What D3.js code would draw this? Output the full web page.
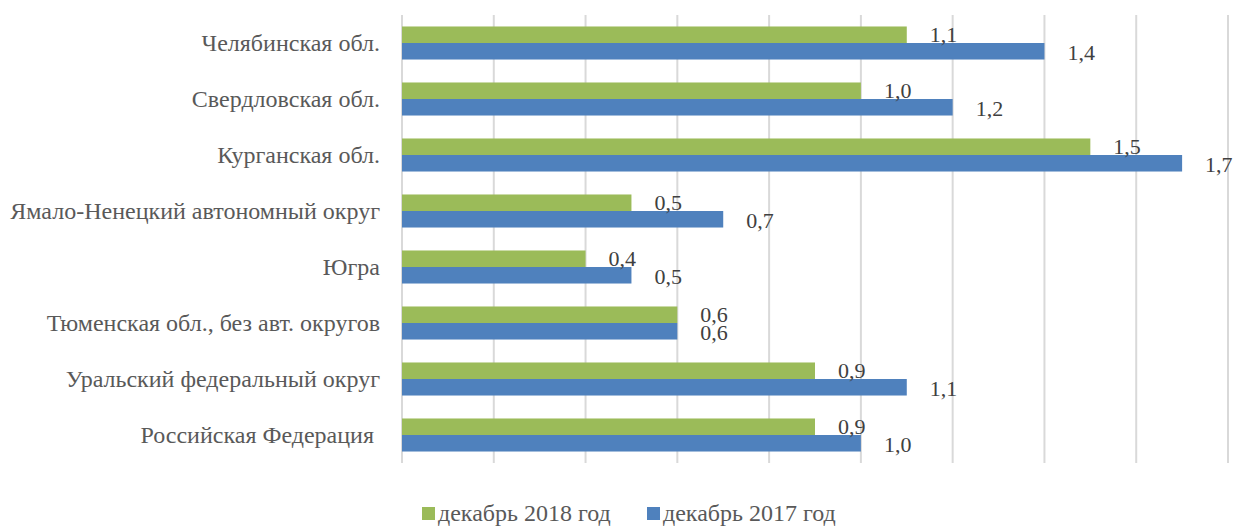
<!DOCTYPE html>
<html>
  <head>
    <meta charset="utf-8">
    <title>Bar chart</title>
    <script src="https://d3js.org/d3.v7.min.js"></script>
    <style>
      body { margin: 0; background: #fff; }
      text { font-family: "Liberation Serif", "Times New Roman", serif; }
      .cat { fill: #595959; font-size: 24px; white-space: pre; }
      .val { fill: #404040; font-size: 22px; }
      .leg { fill: #595959; font-size: 24px; }
    </style>
  </head>
  <body>
    <svg width="1236" height="528"></svg>
    <script>
      // data
      var regions = ["Челябинская обл.", "Свердловская обл.", "Курганская обл.",
        "Ямало-Ненецкий автономный округ", "Югра", "Тюменская обл., без авт. округов",
        "Уральский федеральный округ", "Российская Федерация "];
      var seriesNames = ["декабрь 2018 год", "декабрь 2017 год"];
      var dec2018 = [1.1, 1.0, 1.5, 0.5, 0.4, 0.6, 0.9, 0.9];
      var dec2017 = [1.4, 1.2, 1.7, 0.7, 0.5, 0.6, 1.1, 1.0];
      var ticks = [0, 0.2, 0.4, 0.6, 0.8, 1.0, 1.2, 1.4, 1.6, 1.8];
      var colors = ["#9bbb59", "#4f81bd"];

      var svg = d3.select("svg");
      var plotL = 402, plotR = 1228, plotT = 15, plotB = 463;

      var x = d3.scaleLinear().domain([0, 1.8]).range([plotL, plotR]);
      var y = d3.scaleBand().domain(regions).range([plotT, plotB])
        .paddingInner(0.41).paddingOuter(0.205);
      var y1 = d3.scaleBand().domain([0, 1]).range([0, y.bandwidth()]);

      // gridlines
      svg.append("g").selectAll("line").data(ticks).enter().append("line")
        .attr("x1", d => x(d)).attr("x2", d => x(d))
        .attr("y1", plotT).attr("y2", plotB)
        .attr("stroke", "#d9d9d9").attr("stroke-width", 2);

      var rows = regions.map(function (r, i) {
        return { name: r, vals: [dec2018[i], dec2017[i]] };
      });

      var g = svg.append("g").selectAll("g").data(rows).enter().append("g")
        .attr("transform", d => "translate(0," + y(d.name) + ")");

      g.selectAll("rect").data(d => d.vals).enter().append("rect")
        .attr("x", x(0))
        .attr("y", (d, i) => y1(i))
        .attr("width", d => x(d) - x(0))
        .attr("height", y1.bandwidth())
        .attr("fill", (d, i) => colors[i]);

      g.selectAll("text").data(d => d.vals).enter().append("text")
        .attr("class", "val")
        .attr("x", d => x(d) + 23)
        .attr("y", (d, i) => y1(i) + y1.bandwidth() / 2 + (i ? 1.5 : 0))
        .attr("dy", "0.35em")
        .text(d => d3.format(".1f")(d).replace(".", ","));

      // category labels
      svg.append("g").selectAll("text").data(regions).enter().append("text")
        .attr("class", "cat")
        .attr("x", plotL - 22)
        .attr("y", d => y(d) + y.bandwidth() / 2)
        .attr("dy", "0.35em")
        .attr("text-anchor", "end")
        .text(d => d);

      // legend
      var legX = [422, 647];
      var leg = svg.append("g").selectAll("g").data(seriesNames).enter().append("g")
        .attr("transform", (d, i) => "translate(" + legX[i] + ",507)");
      leg.append("rect").attr("width", 13).attr("height", 13)
        .attr("fill", (d, i) => colors[i]);
      leg.append("text").attr("class", "leg")
        .attr("x", 16).attr("y", 14)
        .text(d => d);
    </script>
  </body>
</html>
